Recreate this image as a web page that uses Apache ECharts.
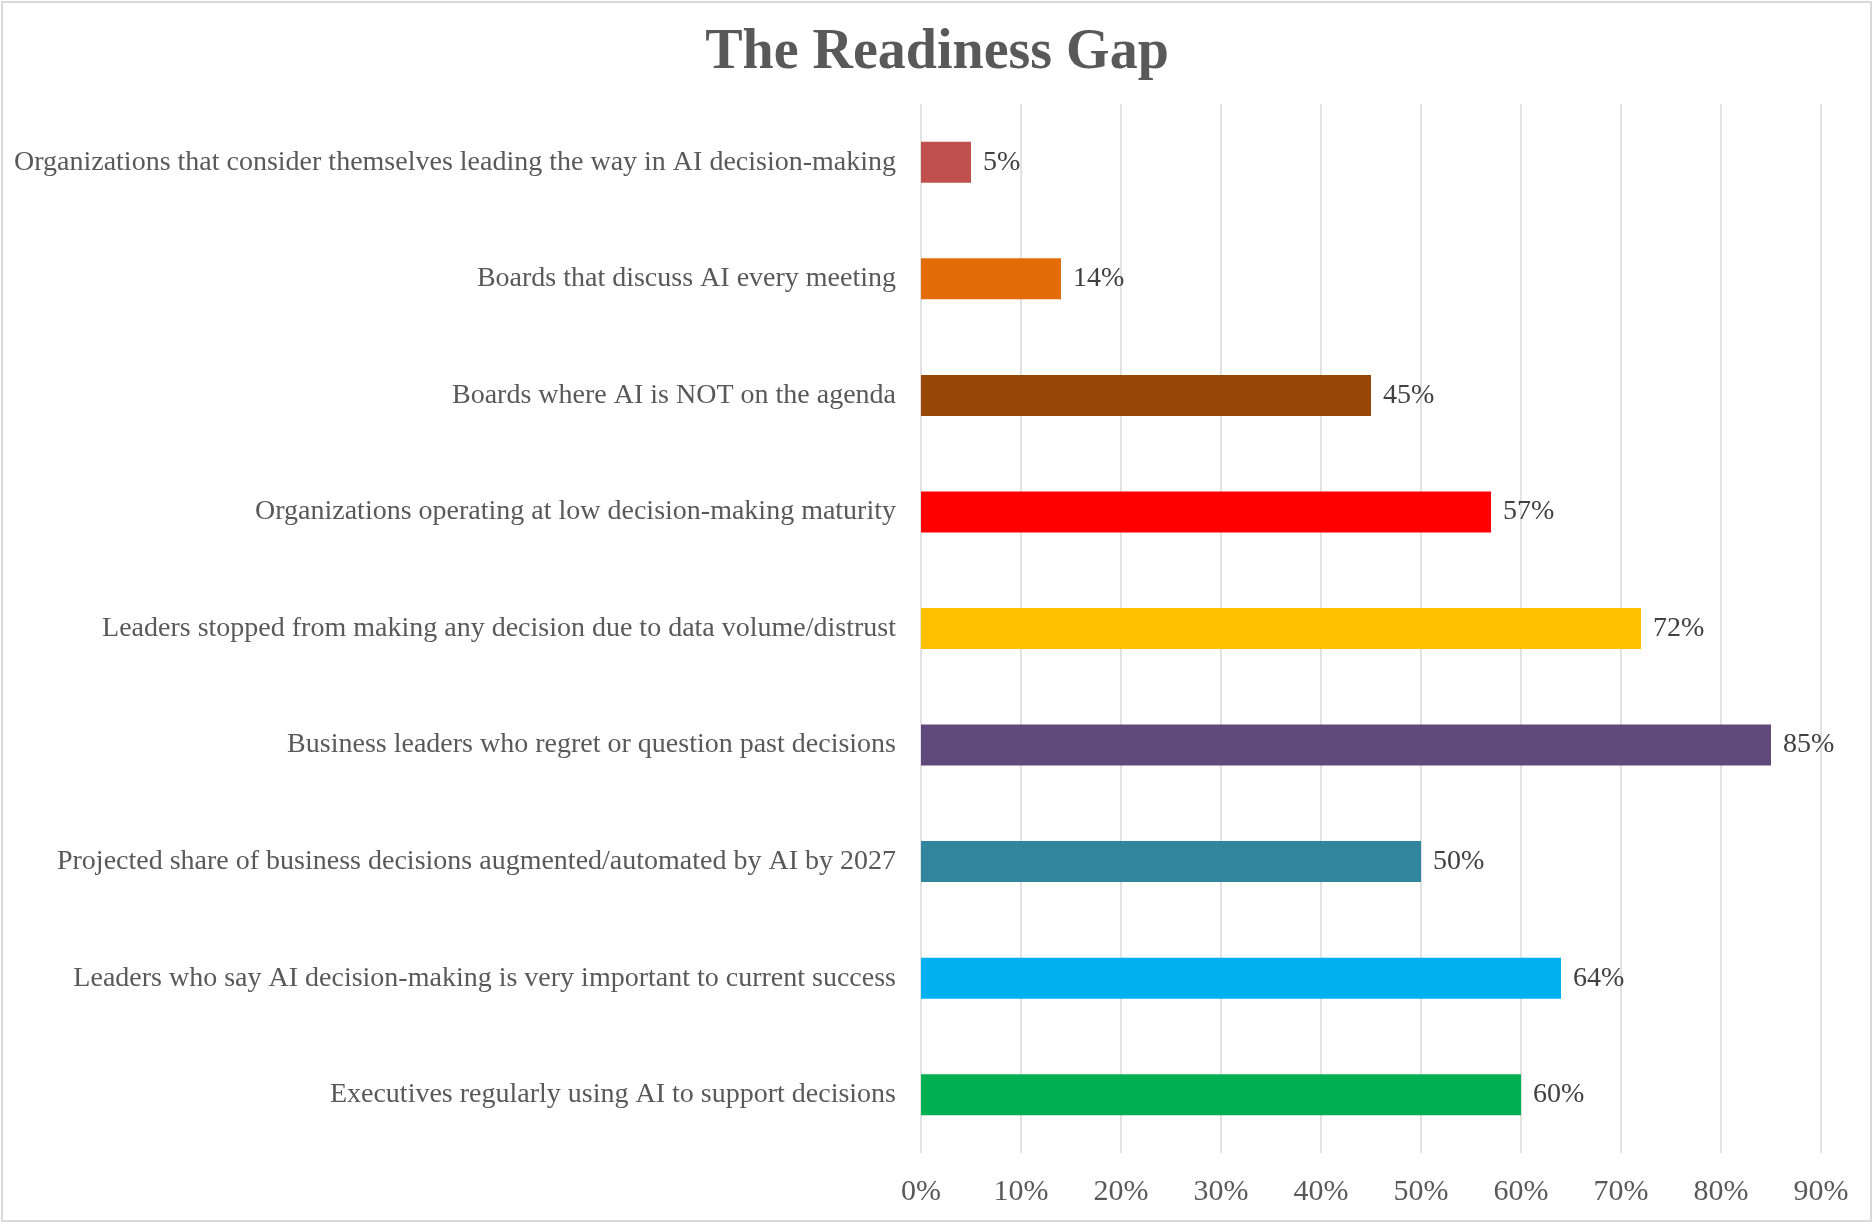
<!DOCTYPE html>
<html>
<head>
<meta charset="utf-8">
<script src="https://cdn.jsdelivr.net/npm/echarts@6/dist/echarts.min.js"></script>
<style>
  html, body { margin: 0; padding: 0; background: #fff; }
  #main { width: 1874px; height: 1224px; }
</style>
</head>
<body>
<div id="main"></div>
<script>
// categories top to bottom
var categories = [
    'Organizations that consider themselves leading the way in AI decision-making',
    'Boards that discuss AI every meeting',
    'Boards where AI is NOT on the agenda',
    'Organizations operating at low decision-making maturity',
    'Leaders stopped from making any decision due to data volume/distrust',
    'Business leaders who regret or question past decisions',
    'Projected share of business decisions augmented/automated by AI by 2027',
    'Leaders who say AI decision-making is very important to current success',
    'Executives regularly using AI to support decisions'
];
var values = [5, 14, 45, 57, 72, 85, 50, 64, 60];
var barColors = ['#C0504D', '#E36C09', '#974706', '#FF0000', '#FFC000', '#604A7B', '#31859C', '#00B0F0', '#00B050'];
var xTicks = [0, 10, 20, 30, 40, 50, 60, 70, 80, 90];

var serif = '"Liberation Serif", "Times New Roman", serif';

var chart = echarts.init(document.getElementById('main'));
chart.setOption({
    backgroundColor: '#fff',
    title: {
        text: 'The Readiness Gap',
        left: 'center',
        top: 21,
        textStyle: {
            fontFamily: serif,
            fontSize: 56,
            fontWeight: 'bold',
            color: '#595959'
        }
    },
    graphic: [{
        type: 'rect',
        shape: { x: 2, y: 2, width: 1869, height: 1219 },
        style: { fill: 'none', stroke: '#D9D9D9', lineWidth: 2 },
        silent: true
    }],
    grid: {
        left: 921,
        right: 53,
        top: 104,
        bottom: 71
    },
    xAxis: {
        type: 'value',
        min: xTicks[0],
        max: xTicks[xTicks.length - 1],
        interval: 10,
        axisLine: { show: false },
        axisTick: { show: false },
        splitLine: {
            lineStyle: { color: '#D9D9D9', width: 1.5 }
        },
        axisLabel: {
            formatter: '{value}%',
            fontFamily: serif,
            fontSize: 30,
            color: '#595959',
            margin: 24
        }
    },
    yAxis: {
        type: 'category',
        inverse: true,
        data: categories,
        axisLine: { show: false },
        axisTick: { show: false },
        axisLabel: {
            fontFamily: serif,
            fontSize: 28,
            color: '#595959',
            margin: 25
        }
    },
    series: [{
        type: 'bar',
        barWidth: 41,
        data: values.map(function (v, i) {
            return { value: v, itemStyle: { color: barColors[i] } };
        }),
        label: {
            show: true,
            position: 'right',
            distance: 12,
            formatter: '{c}%',
            fontFamily: serif,
            fontSize: 28,
            color: '#404040'
        }
    }]
});
</script>
</body>
</html>
